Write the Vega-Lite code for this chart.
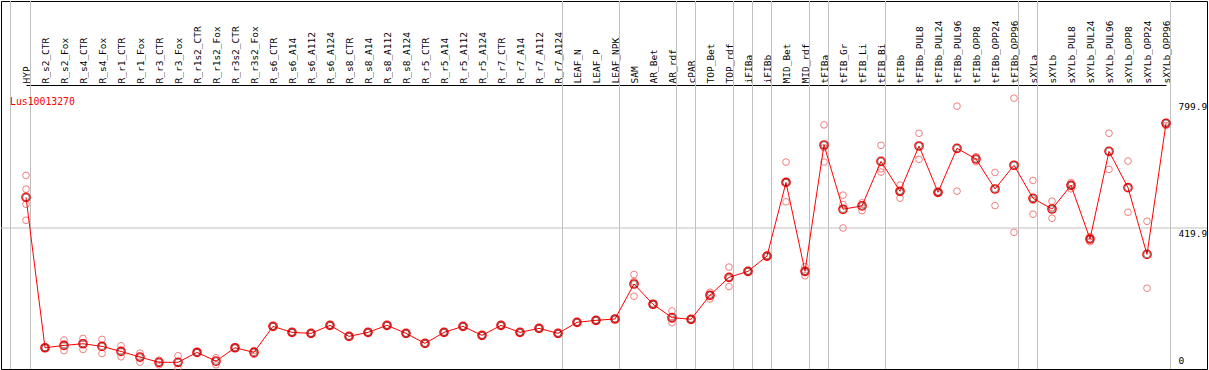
{
  "$schema": "https://vega.github.io/schema/vega-lite/v6.json",
  "width": 1206,
  "height": 368,
  "autosize": {"type": "none"},
  "padding": {"left": 1, "top": 1, "right": 2, "bottom": 1},
  "background": "white",
  "config": {
    "view": {"stroke": "#000000", "strokeWidth": 1},
    "font": "DejaVu Sans Mono"
  },
  "title": {
    "text": "Lus10013270",
    "orient": "bottom",
    "anchor": "start",
    "frame": "group",
    "offset": -277,
    "dx": 9,
    "baseline": "top",
    "color": "#ff0000",
    "font": "DejaVu Sans Mono",
    "fontSize": 9.8,
    "fontWeight": "normal"
  },
  "datasets": {
    "means": [
      {"sample": "HYP", "value": 511.6},
      {"sample": "R_s2_CTR", "value": 62},
      {"sample": "R_s2_Fox", "value": 69},
      {"sample": "R_s4_CTR", "value": 74},
      {"sample": "R_s4_Fox", "value": 66},
      {"sample": "R_r1_CTR", "value": 51},
      {"sample": "R_r1_Fox", "value": 34},
      {"sample": "R_r3_CTR", "value": 18.5},
      {"sample": "R_r3_Fox", "value": 18.5},
      {"sample": "R_r1s2_CTR", "value": 48},
      {"sample": "R_r1s2_Fox", "value": 22},
      {"sample": "R_r3s2_CTR", "value": 62},
      {"sample": "R_r3s2_Fox", "value": 48},
      {"sample": "R_s6_CTR", "value": 126},
      {"sample": "R_s6_A14", "value": 108},
      {"sample": "R_s6_A112", "value": 105},
      {"sample": "R_s6_A124", "value": 129},
      {"sample": "R_s8_CTR", "value": 96},
      {"sample": "R_s8_A14", "value": 108},
      {"sample": "R_s8_A112", "value": 129},
      {"sample": "R_s8_A124", "value": 105},
      {"sample": "R_r5_CTR", "value": 75},
      {"sample": "R_r5_A14", "value": 108},
      {"sample": "R_r5_A112", "value": 126},
      {"sample": "R_r5_A124", "value": 99},
      {"sample": "R_r7_CTR", "value": 129},
      {"sample": "R_r7_A14", "value": 108},
      {"sample": "R_r7_A112", "value": 120},
      {"sample": "R_r7_A124", "value": 105},
      {"sample": "LEAF_N", "value": 138},
      {"sample": "LEAF_P", "value": 144},
      {"sample": "LEAF_NPK", "value": 148},
      {"sample": "SAM", "value": 252.5},
      {"sample": "AR_Bet", "value": 192},
      {"sample": "AR_rdf", "value": 152},
      {"sample": "cPAR", "value": 147},
      {"sample": "TOP_Bet", "value": 219},
      {"sample": "TOP_rdf", "value": 272.5},
      {"sample": "iFIBa", "value": 290.5},
      {"sample": "iFIBb", "value": 336},
      {"sample": "MID_Bet", "value": 556},
      {"sample": "MID_rdf", "value": 290.5},
      {"sample": "tFIBa", "value": 668},
      {"sample": "tFIB_Gr", "value": 476},
      {"sample": "tFIB_Li", "value": 486},
      {"sample": "tFIB_Bi", "value": 619},
      {"sample": "tFIBb", "value": 529.6},
      {"sample": "tFIBb_PUL8", "value": 665},
      {"sample": "tFIBb_PUL24", "value": 526.6},
      {"sample": "tFIBb_PUL96", "value": 658},
      {"sample": "tFIBb_OPP8", "value": 626},
      {"sample": "tFIBb_OPP24", "value": 536.5},
      {"sample": "tFIBb_OPP96", "value": 607.3},
      {"sample": "sXYLa", "value": 508.6},
      {"sample": "sXYLb", "value": 476.7},
      {"sample": "sXYLb_PUL8", "value": 547.5},
      {"sample": "sXYLb_PUL24", "value": 387},
      {"sample": "sXYLb_PUL96", "value": 649},
      {"sample": "sXYLb_OPP8", "value": 540.4},
      {"sample": "sXYLb_OPP24", "value": 341},
      {"sample": "sXYLb_OPP96", "value": 732.8}
    ],
    "reps": [
      {"sample": "HYP", "value": 577}, {"sample": "HYP", "value": 536}, {"sample": "HYP", "value": 491}, {"sample": "HYP", "value": 443},
      {"sample": "R_s2_CTR", "value": 63}, {"sample": "R_s2_CTR", "value": 61},
      {"sample": "R_s2_Fox", "value": 85}, {"sample": "R_s2_Fox", "value": 53},
      {"sample": "R_s4_CTR", "value": 90}, {"sample": "R_s4_CTR", "value": 57},
      {"sample": "R_s4_Fox", "value": 87}, {"sample": "R_s4_Fox", "value": 45},
      {"sample": "R_r1_CTR", "value": 68}, {"sample": "R_r1_CTR", "value": 35},
      {"sample": "R_r1_Fox", "value": 46}, {"sample": "R_r1_Fox", "value": 19},
      {"sample": "R_r3_CTR", "value": 25}, {"sample": "R_r3_CTR", "value": 11},
      {"sample": "R_r3_Fox", "value": 38}, {"sample": "R_r3_Fox", "value": 0},
      {"sample": "R_r1s2_CTR", "value": 49}, {"sample": "R_r1s2_CTR", "value": 47},
      {"sample": "R_r1s2_Fox", "value": 32}, {"sample": "R_r1s2_Fox", "value": 11},
      {"sample": "R_r3s2_CTR", "value": 63}, {"sample": "R_r3s2_CTR", "value": 61},
      {"sample": "R_r3s2_Fox", "value": 54}, {"sample": "R_r3s2_Fox", "value": 42},
      {"sample": "R_s6_CTR", "value": 127}, {"sample": "R_s6_CTR", "value": 125},
      {"sample": "R_s6_A14", "value": 109}, {"sample": "R_s6_A14", "value": 107},
      {"sample": "R_s6_A112", "value": 106}, {"sample": "R_s6_A112", "value": 104},
      {"sample": "R_s6_A124", "value": 130}, {"sample": "R_s6_A124", "value": 128},
      {"sample": "R_s8_CTR", "value": 97}, {"sample": "R_s8_CTR", "value": 95},
      {"sample": "R_s8_A14", "value": 109}, {"sample": "R_s8_A14", "value": 107},
      {"sample": "R_s8_A112", "value": 130}, {"sample": "R_s8_A112", "value": 128},
      {"sample": "R_s8_A124", "value": 106}, {"sample": "R_s8_A124", "value": 104},
      {"sample": "R_r5_CTR", "value": 76}, {"sample": "R_r5_CTR", "value": 74},
      {"sample": "R_r5_A14", "value": 109}, {"sample": "R_r5_A14", "value": 107},
      {"sample": "R_r5_A112", "value": 127}, {"sample": "R_r5_A112", "value": 125},
      {"sample": "R_r5_A124", "value": 100}, {"sample": "R_r5_A124", "value": 98},
      {"sample": "R_r7_CTR", "value": 130}, {"sample": "R_r7_CTR", "value": 128},
      {"sample": "R_r7_A14", "value": 109}, {"sample": "R_r7_A14", "value": 107},
      {"sample": "R_r7_A112", "value": 121}, {"sample": "R_r7_A112", "value": 119},
      {"sample": "R_r7_A124", "value": 106}, {"sample": "R_r7_A124", "value": 104},
      {"sample": "LEAF_N", "value": 139}, {"sample": "LEAF_N", "value": 137},
      {"sample": "LEAF_P", "value": 145}, {"sample": "LEAF_P", "value": 143},
      {"sample": "LEAF_NPK", "value": 149}, {"sample": "LEAF_NPK", "value": 147},
      {"sample": "SAM", "value": 281}, {"sample": "SAM", "value": 260}, {"sample": "SAM", "value": 216},
      {"sample": "AR_Bet", "value": 193}, {"sample": "AR_Bet", "value": 191},
      {"sample": "AR_rdf", "value": 172}, {"sample": "AR_rdf", "value": 147}, {"sample": "AR_rdf", "value": 137},
      {"sample": "cPAR", "value": 148}, {"sample": "cPAR", "value": 146},
      {"sample": "TOP_Bet", "value": 228}, {"sample": "TOP_Bet", "value": 220}, {"sample": "TOP_Bet", "value": 208},
      {"sample": "TOP_rdf", "value": 303}, {"sample": "TOP_rdf", "value": 270}, {"sample": "TOP_rdf", "value": 245},
      {"sample": "iFIBa", "value": 291}, {"sample": "iFIBa", "value": 290},
      {"sample": "iFIBb", "value": 338}, {"sample": "iFIBb", "value": 334},
      {"sample": "MID_Bet", "value": 617}, {"sample": "MID_Bet", "value": 556}, {"sample": "MID_Bet", "value": 498},
      {"sample": "MID_rdf", "value": 304}, {"sample": "MID_rdf", "value": 290}, {"sample": "MID_rdf", "value": 277},
      {"sample": "tFIBa", "value": 728}, {"sample": "tFIBa", "value": 660}, {"sample": "tFIBa", "value": 617},
      {"sample": "tFIB_Gr", "value": 518}, {"sample": "tFIB_Gr", "value": 490}, {"sample": "tFIB_Gr", "value": 420},
      {"sample": "tFIB_Li", "value": 495}, {"sample": "tFIB_Li", "value": 472},
      {"sample": "tFIB_Bi", "value": 667}, {"sample": "tFIB_Bi", "value": 597}, {"sample": "tFIB_Bi", "value": 587},
      {"sample": "tFIBb", "value": 548}, {"sample": "tFIBb", "value": 530}, {"sample": "tFIBb", "value": 509},
      {"sample": "tFIBb_PUL8", "value": 703}, {"sample": "tFIBb_PUL8", "value": 625},
      {"sample": "tFIBb_PUL24", "value": 528}, {"sample": "tFIBb_PUL24", "value": 525},
      {"sample": "tFIBb_PUL96", "value": 784}, {"sample": "tFIBb_PUL96", "value": 530},
      {"sample": "tFIBb_OPP8", "value": 633}, {"sample": "tFIBb_OPP8", "value": 618},
      {"sample": "tFIBb_OPP24", "value": 586}, {"sample": "tFIBb_OPP24", "value": 487},
      {"sample": "tFIBb_OPP96", "value": 808}, {"sample": "tFIBb_OPP96", "value": 407},
      {"sample": "sXYLa", "value": 562}, {"sample": "sXYLa", "value": 503}, {"sample": "sXYLa", "value": 461},
      {"sample": "sXYLb", "value": 500}, {"sample": "sXYLb", "value": 481}, {"sample": "sXYLb", "value": 449},
      {"sample": "sXYLb_PUL8", "value": 556}, {"sample": "sXYLb_PUL8", "value": 549}, {"sample": "sXYLb_PUL8", "value": 537},
      {"sample": "sXYLb_PUL24", "value": 394}, {"sample": "sXYLb_PUL24", "value": 387}, {"sample": "sXYLb_PUL24", "value": 379},
      {"sample": "sXYLb_PUL96", "value": 703}, {"sample": "sXYLb_PUL96", "value": 595},
      {"sample": "sXYLb_OPP8", "value": 620}, {"sample": "sXYLb_OPP8", "value": 467},
      {"sample": "sXYLb_OPP24", "value": 440}, {"sample": "sXYLb_OPP24", "value": 240},
      {"sample": "sXYLb_OPP96", "value": 735}, {"sample": "sXYLb_OPP96", "value": 726}
    ],
    "bounds": [
      {"sample": "HYP"}, {"sample": "R_r7_A124"}, {"sample": "LEAF_NPK"}, {"sample": "AR_rdf"},
      {"sample": "cPAR"}, {"sample": "TOP_rdf"}, {"sample": "iFIBa"}, {"sample": "iFIBb"},
      {"sample": "MID_rdf"}, {"sample": "tFIBa"}, {"sample": "tFIB_Bi"}, {"sample": "tFIBb_OPP96"},
      {"sample": "sXYLa"}, {"sample": "sXYLb_OPP96"}
    ],
    "start": [{"sample": "HYP"}],
    "refs": [{"level": 419.9}]
  },
  "layer": [
    {
      "data": {"name": "bounds"},
      "mark": {"type": "rule", "color": "#c0c0c0", "strokeWidth": 1, "xOffset": 4.5},
      "encoding": {
        "x": {
          "field": "sample",
          "type": "nominal",
          "sort": null,
          "scale": {
            "type": "point",
            "padding": 0,
            "range": [25, 1165],
            "domain": ["HYP","R_s2_CTR","R_s2_Fox","R_s4_CTR","R_s4_Fox","R_r1_CTR","R_r1_Fox","R_r3_CTR","R_r3_Fox","R_r1s2_CTR","R_r1s2_Fox","R_r3s2_CTR","R_r3s2_Fox","R_s6_CTR","R_s6_A14","R_s6_A112","R_s6_A124","R_s8_CTR","R_s8_A14","R_s8_A112","R_s8_A124","R_r5_CTR","R_r5_A14","R_r5_A112","R_r5_A124","R_r7_CTR","R_r7_A14","R_r7_A112","R_r7_A124","LEAF_N","LEAF_P","LEAF_NPK","SAM","AR_Bet","AR_rdf","cPAR","TOP_Bet","TOP_rdf","iFIBa","iFIBb","MID_Bet","MID_rdf","tFIBa","tFIB_Gr","tFIB_Li","tFIB_Bi","tFIBb","tFIBb_PUL8","tFIBb_PUL24","tFIBb_PUL96","tFIBb_OPP8","tFIBb_OPP24","tFIBb_OPP96","sXYLa","sXYLb","sXYLb_PUL8","sXYLb_PUL24","sXYLb_PUL96","sXYLb_OPP8","sXYLb_OPP24","sXYLb_OPP96"]
          },
          "axis": {
            "orient": "top",
            "offset": -84,
            "title": null,
            "labelAngle": 270,
            "labelPadding": 2,
            "labelFont": "DejaVu Sans Mono",
            "labelFontSize": 9.5,
            "labelColor": "#000000",
            "labelOverlap": false,
            "labelLimit": 0,
            "ticks": false,
            "grid": false,
            "domain": true,
            "domainColor": "#000000",
            "domainWidth": 1
          }
        }
      }
    },
    {
      "data": {"name": "start"},
      "mark": {"type": "rule", "color": "#c0c0c0", "strokeWidth": 1, "xOffset": -15.5},
      "encoding": {"x": {"field": "sample", "type": "nominal"}}
    },
    {
      "data": {"name": "refs"},
      "mark": {"type": "rule", "color": "#c0c0c0", "strokeWidth": 1},
      "encoding": {
        "y": {
          "field": "level",
          "type": "quantitative",
          "scale": {"domain": [-1.5, 1098.3], "zero": false, "nice": false},
          "axis": {
            "orient": "right",
            "offset": -31,
            "title": null,
            "values": [0, 419.9, 799.9],
            "labelExpr": "datum.value === 0 ? '0' : format(datum.value, '.1f')",
            "labelAlign": "left",
            "labelBaseline": {"condition": {"test": "datum.value === 0", "value": "bottom"}, "value": "top"},
            "labelOffset": {"condition": {"test": "datum.value === 0", "value": -3}, "value": 1},
            "labelPadding": 2,
            "labelFont": "DejaVu Sans Mono",
            "labelFontSize": 9.5,
            "labelColor": "#000000",
            "ticks": false,
            "domain": false,
            "grid": false
          }
        }
      }
    },
    {
      "data": {"name": "reps"},
      "mark": {"type": "point", "shape": "circle", "filled": false, "stroke": "#f08080", "strokeWidth": 1, "size": 45, "opacity": 1},
      "encoding": {
        "x": {"field": "sample", "type": "nominal"},
        "y": {"field": "value", "type": "quantitative"}
      }
    },
    {
      "data": {"name": "means"},
      "mark": {"type": "line", "color": "#ff0000", "strokeWidth": 1},
      "encoding": {
        "x": {"field": "sample", "type": "nominal"},
        "y": {"field": "value", "type": "quantitative"}
      }
    },
    {
      "data": {"name": "means"},
      "mark": {"type": "point", "shape": "circle", "filled": false, "stroke": "#ff0000", "strokeWidth": 1.3, "size": 70, "opacity": 1},
      "encoding": {
        "x": {"field": "sample", "type": "nominal"},
        "y": {"field": "value", "type": "quantitative"}
      }
    },
    {
      "data": {"name": "means"},
      "mark": {"type": "point", "shape": "circle", "filled": false, "stroke": "#000000", "strokeWidth": 0.6, "size": 42, "opacity": 0.75},
      "encoding": {
        "x": {"field": "sample", "type": "nominal"},
        "y": {"field": "value", "type": "quantitative"}
      }
    }
  ]
}
